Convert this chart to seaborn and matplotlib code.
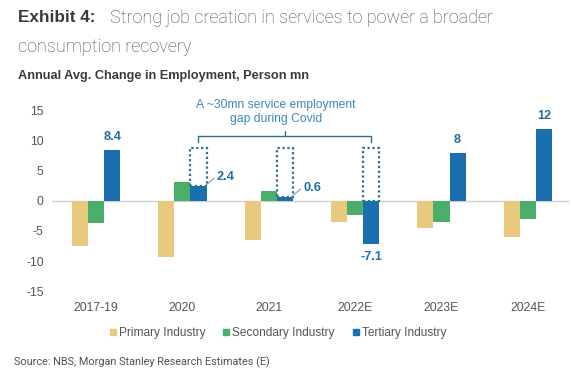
import matplotlib
matplotlib.use("Agg")
import matplotlib.pyplot as plt
from matplotlib.patches import Rectangle
from matplotlib.lines import Line2D
import seaborn as sns
import pandas as pd

periods = ["2017-19", "2020", "2021", "2022E", "2023E", "2024E"]
primary = [-7.5, -9.3, -6.5, -3.5, -4.5, -6.0]
secondary = [-3.6, 3.1, 1.7, -2.4, -3.5, -3.0]
tertiary = [8.4, 2.4, 0.6, -7.1, 8.0, 12.0]
series_names = ["Primary Industry", "Secondary Industry", "Tertiary Industry"]
value_labels = ["8.4", "2.4", "0.6", "-7.1", "8", "12"]
gap_level = 8.8
y_ticks = [-15, -10, -5, 0, 5, 10, 15]

colors = ["#E9C97E", "#4BAF6A", "#1A70AE"]

rows = []
for s, vals in zip(series_names, [primary, secondary, tertiary]):
    for p, v in zip(periods, vals):
        rows.append({"period": p, "series": s, "value": v})
df = pd.DataFrame(rows)

sns.set_theme(style="white")
plt.rcParams["font.family"] = ["Liberation Sans", "DejaVu Sans"]

fig = plt.figure(figsize=(5.71, 3.81), dpi=100)
ax = fig.add_axes([0.091, 0.236, 0.906, 0.4734])

sns.barplot(data=df, x="period", y="value", hue="series", order=periods,
            hue_order=series_names, palette=colors, width=0.56,
            saturation=1, ax=ax, legend=False, edgecolor="none")

ax.set_xlim(-0.51, 5.48)
ax.set_ylim(-15, 15)
ax.set_yticks(y_ticks)
ax.set_yticklabels([str(t) for t in y_ticks])
ax.set_xlabel("")
ax.set_ylabel("")
for sp in ax.spines.values():
    sp.set_visible(False)
ax.axhline(0, color="#d0d0d0", lw=1.0, zorder=0)
ax.tick_params(axis="y", length=0, pad=6, labelsize=8.8, labelcolor="#555555")
ax.tick_params(axis="x", length=0, pad=8, labelsize=8.8, labelcolor="#555555")

lab_color = "#1F6FA8"
bars = ax.containers[2]
ann_color = "#2D6E96"
for i, (bar, lab, v) in enumerate(zip(bars, value_labels, tertiary)):
    cx = bar.get_x() + bar.get_width() / 2
    x0 = bar.get_x()
    x1 = bar.get_x() + bar.get_width()
    if i in (1, 2):
        ax.plot([x1, x1 + 0.09], [v + 0.3, v + 1.4], color="#7a9fb8", lw=0.8)
        ax.text(x1 + 0.12, v + 1.5, lab, ha="left", va="center", fontsize=9.2,
                fontweight="bold", color=lab_color)
    elif v < 0:
        ax.text(cx, v - 1.2, lab, ha="center", va="top", fontsize=9.2,
                fontweight="bold", color=lab_color)
    else:
        ax.text(cx, v + 1.2, lab, ha="center", va="bottom", fontsize=9.2,
                fontweight="bold", color=lab_color)
    if i in (1, 2, 3):
        base = max(v, 0)
        rect = Rectangle((x0, base), bar.get_width(), gap_level - base,
                         fill=False, edgecolor=ann_color, lw=1.6,
                         linestyle=(0, (1, 1.2)), zorder=3)
        ax.add_patch(rect)

# bracket
b1 = bars[1]
b3 = bars[3]
xl = b1.get_x() + b1.get_width() / 2
xr = b3.get_x() + b3.get_width() / 2
xm = (xl + xr) / 2
yb = 10.8
ax.plot([xl, xl, xr, xr], [yb - 1.0, yb, yb, yb - 1.0], color=ann_color, lw=1.0,
        clip_on=False)
ax.plot([xm, xm], [yb, yb + 0.8], color=ann_color, lw=1.0, clip_on=False)
ax.text(xm - 0.1, 14.8, "A ~30mn service employment\ngap during Covid",
        ha="center", va="center", fontsize=8.7, color="#3D88BE",
        linespacing=1.15, clip_on=False)

# titles
fig.text(0.031, 0.953, "Exhibit 4:", fontsize=12.3, fontweight="bold",
         color="#3a3a3a", va="center", ha="left")
fig.text(0.192, 0.953, "Strong job creation in services to power a broader",
         fontsize=13.0, color="#4a4a4a", va="center", ha="left",
         family=["Roboto", "DejaVu Sans"], fontweight="light")
fig.text(0.031, 0.876, "consumption recovery",
         fontsize=13.0, color="#4a4a4a", va="center", ha="left",
         family=["Roboto", "DejaVu Sans"], fontweight="light")
fig.text(0.031, 0.801, "Annual Avg. Change in Employment, Person mn",
         fontsize=9.2, fontweight="bold", color="#3a3a3a", va="center", ha="left")

# legend
handles = [Line2D([0], [0], marker="s", linestyle="none", markersize=5,
                  markerfacecolor=c, markeredgecolor=c) for c in colors]
fig.legend(handles, series_names, loc="center", bbox_to_anchor=(0.485, 0.126),
           ncol=3, frameon=False, fontsize=8.6, labelcolor="#555555",
           handletextpad=0.05, columnspacing=1.3, handlelength=0.9)

fig.text(0.0245, 0.05, "Source: NBS, Morgan Stanley Research Estimates (E)",
         fontsize=7.8, color="#505050", va="center", ha="left",
         family=["Roboto", "DejaVu Sans"])

fig.savefig("out.png", dpi=100)
